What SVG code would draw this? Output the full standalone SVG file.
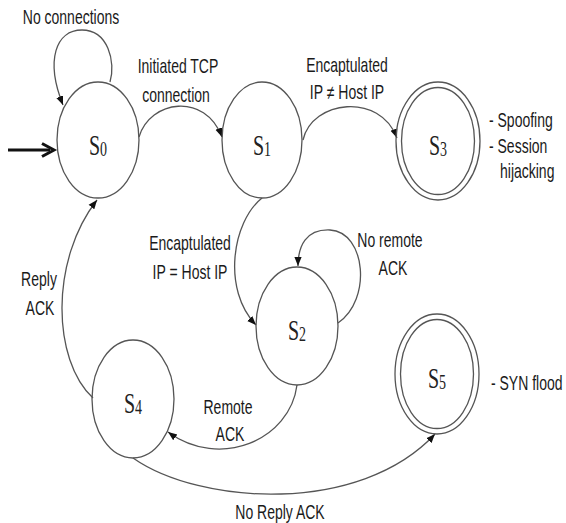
<svg xmlns="http://www.w3.org/2000/svg" width="566" height="523" viewBox="0 0 566 523">
<style>
.st{fill:none;stroke:#555;stroke-width:1.3}
.e{fill:none;stroke:#555;stroke-width:1.3}
.lb{font-family:"Liberation Sans",Arial,sans-serif;font-size:14px;fill:#1a1a1a}
.sl{font-family:"Liberation Serif","Times New Roman",serif;font-size:20px;fill:#222;text-anchor:middle}
.sub{font-size:14px}
.m{text-anchor:middle}
</style>
<defs>
<marker id="ah" viewBox="0 0 10 10" refX="10" refY="5" markerWidth="9" markerHeight="9" markerUnits="userSpaceOnUse" orient="auto">
<path d="M0,1 L10,5 L0,9 z" fill="#111"/>
</marker>
</defs>
<rect width="566" height="523" fill="#fff"/>
<g id="connectors">
<g id="start-arrow">
<line x1="8" y1="150" x2="50" y2="150" stroke="#111" stroke-width="3"/>
<path d="M42,143.5 L54,150 L42,156.5" fill="none" stroke="#111" stroke-width="3" stroke-linejoin="miter"/>
</g>
<path id="e-s0-s0" class="st" d="M110,82 C116,62 108,30 82,30 C56,30 45,60 63,105" marker-end="url(#ah)"/>
<path id="e-s0-s1" class="st" d="M139,137 C150,100 205,92 222,137" marker-end="url(#ah)"/>
<path id="e-s1-s3" class="st" d="M303,140 C312,100 380,92 397,138" marker-end="url(#ah)"/>
<path id="e-s1-s2" class="st" d="M262,198 C232,222 222,290 256,325" marker-end="url(#ah)"/>
<path id="e-s2-s2" class="st" d="M338,323 C372,300 366,232 330,230 C306,229 298,246 298,266" marker-end="url(#ah)"/>
<path id="e-s2-s4" class="st" d="M297,385 C290,440 220,470 168,432" marker-end="url(#ah)"/>
<path id="e-s4-s0" class="st" d="M93,398 C52,360 50,260 97,200" marker-end="url(#ah)"/>
<path id="e-s4-s5" class="st" d="M133,458 C200,505 360,515 435,434" marker-end="url(#ah)"/>
</g>
<g id="S0">
<ellipse class="e" cx="98" cy="140" rx="41" ry="58"/>
<text class="sl" transform="translate(98,155) scale(1,1.45)">S<tspan class="sub" dy="1">0</tspan></text>
</g>
<g id="S1">
<ellipse class="e" cx="262" cy="140" rx="40" ry="58"/>
<text class="sl" transform="translate(262,155) scale(1,1.45)">S<tspan class="sub" dy="1">1</tspan></text>
</g>
<g id="S3">
<ellipse class="e" cx="438" cy="141" rx="42" ry="59"/>
<ellipse class="e" cx="438" cy="141" rx="36.5" ry="53.5"/>
<text class="sl" transform="translate(438,155) scale(1,1.45)">S<tspan class="sub" dy="1">3</tspan></text>
</g>
<g id="S2">
<ellipse class="e" cx="297" cy="326" rx="41" ry="59"/>
<text class="sl" transform="translate(297,340) scale(1,1.45)">S<tspan class="sub" dy="1">2</tspan></text>
</g>
<g id="S4">
<ellipse class="e" cx="133" cy="399" rx="41" ry="59"/>
<text class="sl" transform="translate(133,413) scale(1,1.45)">S<tspan class="sub" dy="1">4</tspan></text>
</g>
<g id="S5">
<ellipse class="e" cx="437" cy="374" rx="42" ry="60"/>
<ellipse class="e" cx="437" cy="374" rx="36.5" ry="54.5"/>
<text class="sl" transform="translate(437,388) scale(1,1.45)">S<tspan class="sub" dy="1">5</tspan></text>
</g>
<g id="labels">
<text class="lb m" transform="translate(71,24) scale(1,1.4)">No connections</text>
<text class="lb m" transform="translate(178,73) scale(1,1.4)">Initiated TCP</text>
<text class="lb m" transform="translate(176,102) scale(1,1.4)">connection</text>
<text class="lb m" transform="translate(347,72) scale(1,1.4)">Encaptulated</text>
<text class="lb m" transform="translate(347,99) scale(1,1.4)">IP ≠ Host IP</text>
<text class="lb" transform="translate(489,127) scale(1,1.4)">- Spoofing</text>
<text class="lb" transform="translate(489,153) scale(1,1.4)">- Session</text>
<text class="lb" transform="translate(500,178) scale(1,1.4)">hijacking</text>
<text class="lb m" transform="translate(190,250) scale(1,1.4)">Encaptulated</text>
<text class="lb m" transform="translate(190,279) scale(1,1.4)">IP = Host IP</text>
<text class="lb m" transform="translate(390,247) scale(1,1.4)">No remote</text>
<text class="lb m" transform="translate(393,275) scale(1,1.4)">ACK</text>
<text class="lb m" transform="translate(39,286) scale(1,1.4)">Reply</text>
<text class="lb m" transform="translate(40,315) scale(1,1.4)">ACK</text>
<text class="lb m" transform="translate(228,414) scale(1,1.4)">Remote</text>
<text class="lb m" transform="translate(230,441) scale(1,1.4)">ACK</text>
<text class="lb" transform="translate(491,390) scale(1,1.4)">- SYN flood</text>
<text class="lb m" transform="translate(280,519) scale(1,1.4)">No Reply ACK</text>
</g>
</svg>
